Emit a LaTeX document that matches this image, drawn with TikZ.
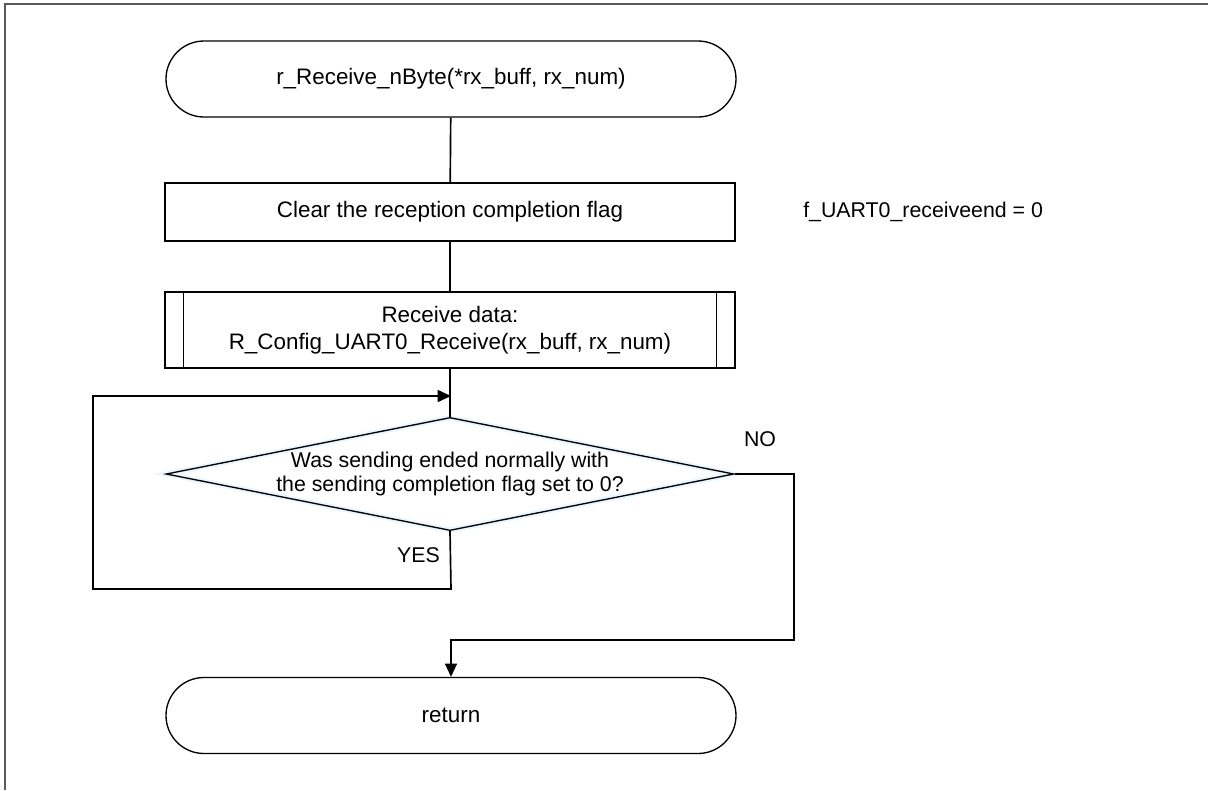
\documentclass[tikz,border=0pt]{standalone}
\usepackage{fontspec}
\setmainfont{Liberation Sans}
\usetikzlibrary{shapes.geometric,shapes.misc,arrows.meta}

\begin{document}
\begin{tikzpicture}[x=0.75pt,y=-0.75pt,
  font=\fontsize{16}{18}\selectfont,
  bigtext/.style={font=\fontsize{16.8}{20}\selectfont},
  shape line/.style={draw=black, line width=1pt},
  terminal/.style={shape line, bigtext, rounded rectangle, minimum width=427.5pt, minimum height=57pt, inner sep=0pt},
  procbox/.style={shape line, bigtext, rectangle, minimum width=427.5pt, minimum height=43.5pt},
  subbox/.style={shape line, bigtext, rectangle, minimum width=427.5pt, minimum height=57pt, align=center},
  decision/.style={shape line, diamond, aspect=5.02, minimum width=425.25pt, minimum height=84.75pt, inner sep=0pt, align=center,
    preaction={draw=blue!40!cyan!25, line width=4pt, opacity=0.35}},
  flow/.style={draw=black, line width=1.25pt},
  flowarrow/.style={flow, -{Triangle[length=10pt,width=9pt]}},
  plainlabel/.style={inner sep=0pt}
]
% page extent
\useasboundingbox (0,0) rectangle (1208,790);

% outer frame (top and left edges)
\draw[black!65, line width=1.3pt] (5,790) -- (5,4) -- (1208,4);

% flowchart blocks
\node[terminal] (start) at (451,79) {r\_Receive\_nByte(*rx\_buff, rx\_num)};
\node[procbox]  (clear) at (450,212) {Clear the reception completion flag};
\node[plainlabel, anchor=west] (flagnote) at (803,212) {f\_UART0\_receiveend = 0};
\node[subbox]   (recv)  at (450,330) {Receive data:\\R\_Config\_UART0\_Receive(rx\_buff, rx\_num)};
\draw[shape line] ([xshift=14.25pt]recv.north west) -- ([xshift=14.25pt]recv.south west);
\draw[shape line] ([xshift=-14.25pt]recv.north east) -- ([xshift=-14.25pt]recv.south east);
\node[decision] (check) at (450,474) {Was sending ended normally with\\the sending completion flag set to 0?};
\node[terminal] (ret)   at (451,715.5) {return};

% branch labels
\node[plainlabel, anchor=east] (yeslbl) at (440,555) {YES};
\node[plainlabel] (nolbl) at (760,439) {NO};

% routing points
\coordinate (yesturn)  at (451,589);
\coordinate (loopleft) at (93,589);
\coordinate (looptop)  at (93,396);
\coordinate (merge)    at (451,396);
\coordinate (nocol)    at (794,640);
\coordinate (retjoin)  at (451,640);

% connectors
\draw[flow] (start) -- (clear);
\draw[flow] (clear) -- (recv);
\draw[flow] (recv) -- (check);
\draw[flowarrow] (check.south) -- (yesturn) -- (loopleft) -- (looptop) -- (merge);
\draw[flowarrow] (check.east) -| (nocol) -- (retjoin) -- (ret.north);
\end{tikzpicture}
\end{document}
